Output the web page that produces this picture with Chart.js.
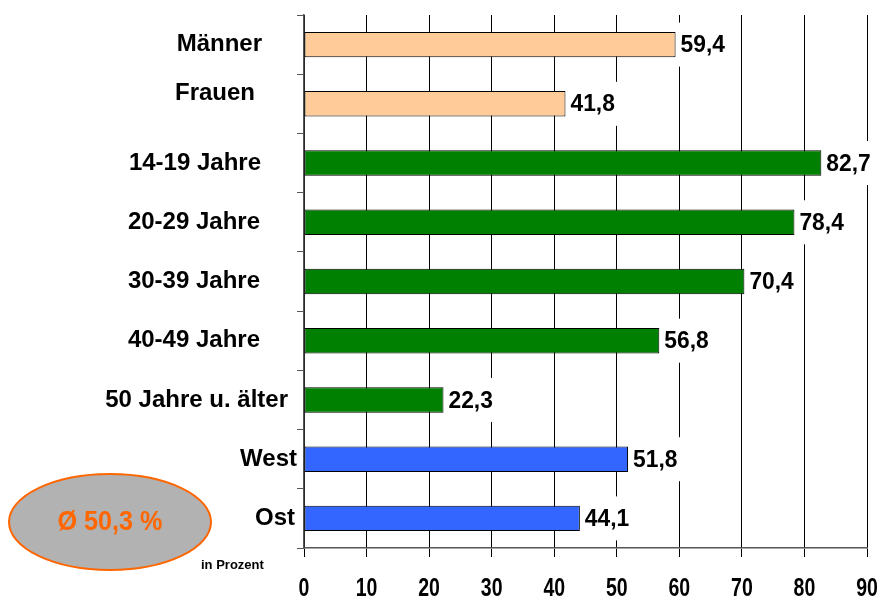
<!DOCTYPE html>
<html lang="de">
<head>
  <meta charset="UTF-8" />
  <title>Anteil in Prozent</title>
  <script src="https://cdn.jsdelivr.net/npm/chart.js"></script>
  <style>
    body { margin: 0; background: #fff; }
    canvas { display: block; }
  </style>
</head>
<body>
  <canvas id="chart" width="885" height="601"></canvas>

  <script>
    const categories = ["Männer", "Frauen", "14-19 Jahre", "20-29 Jahre", "30-39 Jahre",
                        "40-49 Jahre", "50 Jahre u. älter", "West", "Ost"];
    const values = [59.4, 41.8, 82.7, 78.4, 70.4, 56.8, 22.3, 51.8, 44.1];
    const barColors = ["#ffcc99", "#ffcc99", "#008000", "#008000", "#008000",
                       "#008000", "#008000", "#3366ff", "#3366ff"];
    const average = "Ø 50,3 %";
    const unitNote = "in Prozent";

    const FONT = '"Liberation Sans", Arial, sans-serif';
    const fmt = v => v.toFixed(1).replace(".", ",");

    // category labels drawn by hand: the original ones sit a bit unevenly
    const labelGap = [42, 49, 43, 44, 44, 44, 16, 7, 9];
    const labelLift = [0, 10, 0, 0, 0, 0, 0, 0, 0];

    // condensed text, the original uses a narrow face
    function narrowText(ctx, txt, x, y, squeeze) {
      ctx.save();
      ctx.translate(x, y);
      ctx.scale(squeeze, 1);
      ctx.fillText(txt, 0, 0);
      ctx.restore();
    }

    const extras = {
      id: "extras",
      afterDatasetsDraw(chart) {
        const ctx = chart.ctx;
        const y = chart.scales.y;
        const x = chart.scales.x;
        const meta = chart.getDatasetMeta(0);

        ctx.save();
        ctx.font = "bold 24px " + FONT;
        ctx.textBaseline = "middle";
        meta.data.forEach((bar, i) => {
          const txt = fmt(values[i]);
          const w = ctx.measureText(txt).width * 0.95;
          const left = bar.x + 2;
          ctx.fillStyle = "#fff";
          ctx.fillRect(left, bar.y - 22, w + 6, 44);
          ctx.fillStyle = "#000";
          ctx.textAlign = "left";
          narrowText(ctx, txt, left + 3, bar.y + 1, 0.95);
        });

        ctx.font = "bold 24px " + FONT;
        ctx.textAlign = "right";
        categories.forEach((c, i) => {
          const py = y.getPixelForValue(i);
          ctx.fillText(c, x.left - labelGap[i], py - labelLift[i]);
        });

        // x tick labels
        ctx.font = "bold 25px " + FONT;
        ctx.textAlign = "center";
        x.ticks.forEach(t => {
          narrowText(ctx, String(t.value), x.getPixelForValue(t.value), 589, 0.78);
        });

        // average badge
        ctx.beginPath();
        ctx.ellipse(110, 522, 101, 48, 0, 0, Math.PI * 2);
        ctx.fillStyle = "#b2b2b2";
        ctx.fill();
        ctx.lineWidth = 2;
        ctx.strokeStyle = "#ff6600";
        ctx.stroke();
        ctx.fillStyle = "#ff6600";
        ctx.textAlign = "center";
        ctx.font = "bold 28px " + FONT;
        narrowText(ctx, average, 110, 522, 0.9);

        ctx.fillStyle = "#000";
        ctx.textAlign = "left";
        ctx.font = "bold 13px " + FONT;
        ctx.fillText(unitNote, 201, 565);
        ctx.restore();
      }
    };

    new Chart(document.getElementById("chart"), {
      type: "bar",
      data: {
        labels: categories,
        datasets: [{
          data: values,
          backgroundColor: barColors,
          borderColor: "#000",
          borderWidth: 1,
          borderSkipped: false,
          barPercentage: 0.43,
          categoryPercentage: 1
        }]
      },
      options: {
        indexAxis: "y",
        responsive: false,
        animation: false,
        layout: { padding: { top: 15, right: 18, left: 0, bottom: 0 } },
        plugins: {
          legend: { display: false },
          tooltip: { enabled: false }
        },
        scales: {
          x: {
            min: 0,
            max: 90,
            ticks: { stepSize: 10, display: false },
            grid: { color: "#000", lineWidth: 1, tickLength: 9 },
            border: { color: "#555", width: 1.5 },
            afterFit(scale) { scale.height = 53; }
          },
          y: {
            ticks: { display: false },
            grid: { drawOnChartArea: false, tickLength: 7, color: "#555" },
            border: { color: "#555", width: 1.5 },
            afterFit(scale) { scale.width = 304; }
          }
        }
      },
      plugins: [extras]
    });
  </script>
</body>
</html>
